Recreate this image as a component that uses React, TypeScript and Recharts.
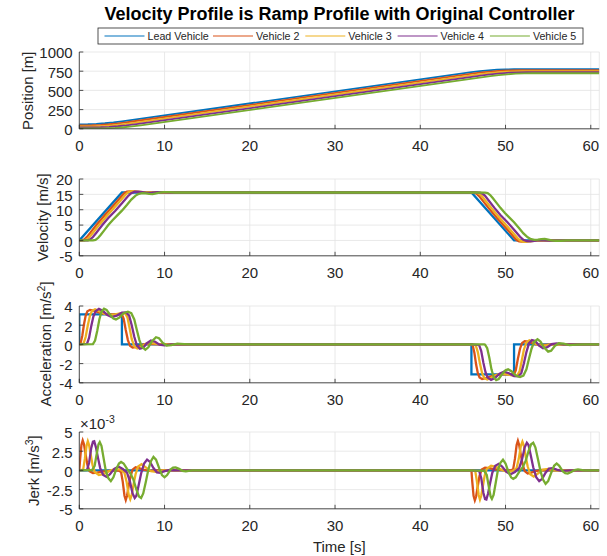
import React from 'react';
import { LineChart, Line, XAxis, YAxis, CartesianGrid } from 'recharts';

type P = [number, number][];

const seriesNames = ['Lead Vehicle', 'Vehicle 2', 'Vehicle 3', 'Vehicle 4', 'Vehicle 5'];
const COLORS = ['#0072BD', '#D95319', '#EDB120', '#7E2F8E', '#77AC30'];
const timeTicks = [0, 10, 20, 30, 40, 50, 60];
const posTicks = [0, 250, 500, 750, 1000];
const velTicks = [-5, 0, 5, 10, 15, 20];
const accTicks = [-4, -2, 0, 2, 4];
const jerkTicks = [-5, -2.5, 0, 2.5, 5];

// Position [m]
const posLead: P = [[0,58],[1,59.6],[2,64.2],[3,72],[4,83],[5,97],[46,736.6],[47,750.6],[48,761.5],[49,769.4],[50,774.1],[51,775.6],[61,775.6]];
const posV2: P = [[0,45],[0.5,45],[1.5,46.6],[2.5,51.2],[3.5,59],[4.5,70],[5.5,84],[6,91.8],[46.5,723.6],[47.5,737.6],[48.5,748.5],[49.5,756.4],[50.5,761.1],[51.5,762.6],[61,762.6]];
const posV3: P = [[0,32],[1,32],[2,33.6],[3,38.2],[4,46],[5,57],[6,71],[47,710.6],[48,724.6],[49,735.5],[50,743.4],[51,748.1],[52,749.6],[61,749.6]];
const posV4: P = [[0,19],[1.5,19],[2.5,20.6],[3.5,25.2],[4.5,33],[5.5,44],[6.5,58],[47.5,697.6],[48.5,711.6],[49.5,722.5],[50.5,730.4],[51.5,735.1],[52.5,736.6],[61,736.6]];
const posV5: P = [[0,6],[2.2,6],[3.2,7.6],[4.2,12.2],[5.2,20],[6.2,31],[7.2,45],[48.2,684.6],[49.2,698.6],[50.2,709.5],[51.2,717.4],[52.2,722.1],[53.2,723.6],[61,723.6]];

// Velocity [m/s]
const velLead: P = [[0,0],[5,15.6],[46,15.6],[51,0],[61,0]];
const velV2: P = [[0,0],[0.3,0.03],[0.6,0.35],[0.9,1.15],[1.3,2.55],[2,5.0],[3,8.3],[4,11.4],[5,14.55],[5.3,15.45],[5.6,15.9],[5.9,16.0],[6.3,15.9],[6.8,15.75],[7.5,15.65],[8.5,15.6],[46,15.6],[46.3,15.57],[46.6,15.25],[46.9,14.45],[47.3,13.05],[48,10.6],[49,7.3],[50,4.2],[51,1.05],[51.3,0.15],[51.6,-0.3],[51.9,-0.4],[52.3,-0.3],[52.8,-0.15],[53.5,-0.05],[54.5,0],[61,0]];
const velV3: P = [[0,0],[0.6,0.03],[0.9,0.35],[1.2,1.1],[1.6,2.5],[2.4,5.3],[3.4,8.5],[4.4,11.6],[5.4,14.8],[5.7,15.6],[6.0,15.95],[6.4,16.05],[6.9,15.9],[7.5,15.7],[8.3,15.62],[9.2,15.65],[10,15.6],[46,15.6],[46.6,15.57],[46.9,15.25],[47.2,14.5],[47.6,13.1],[48.4,10.3],[49.4,7.1],[50.4,4.0],[51.4,0.8],[51.7,0.0],[52.0,-0.35],[52.4,-0.45],[52.9,-0.3],[53.5,-0.05],[54.3,-0.02],[55.2,0],[61,0]];
const velV4: P = [[0,0],[1.0,0.03],[1.3,0.35],[1.6,1.1],[2.0,2.5],[2.7,5.0],[3.4,7.3],[4.2,9.6],[5.0,12.1],[5.7,14.4],[6.1,15.4],[6.5,15.85],[6.9,15.9],[7.4,15.7],[7.9,15.5],[8.5,15.55],[9.2,15.7],[10,15.65],[11,15.6],[46,15.6],[47,15.57],[47.3,15.25],[47.6,14.5],[48.0,13.1],[48.7,10.6],[49.4,8.3],[50.2,6.0],[51.0,3.5],[51.7,1.2],[52.1,0.2],[52.5,-0.25],[52.9,-0.3],[53.4,-0.1],[53.9,0.1],[54.5,0.05],[55.2,-0.05],[56,0],[61,0]];
const velV5: P = [[0,0],[1.6,0.02],[1.9,0.2],[2.2,0.8],[2.5,1.8],[2.9,3.2],[3.4,5.0],[3.9,6.6],[4.4,8.0],[5.0,9.7],[5.6,11.6],[6.1,13.3],[6.6,14.6],[7.0,15.2],[7.4,15.4],[7.8,15.35],[8.2,15.15],[8.6,15.1],[9.0,15.3],[9.4,15.55],[9.9,15.7],[10.5,15.7],[11.2,15.6],[46,15.6],[47.6,15.58],[47.9,15.4],[48.2,14.8],[48.5,13.8],[48.9,12.4],[49.4,10.6],[49.9,9.0],[50.4,7.6],[51.0,5.9],[51.6,4.0],[52.1,2.3],[52.6,1.0],[53.0,0.4],[53.4,0.2],[53.8,0.25],[54.2,0.45],[54.6,0.5],[55.0,0.3],[55.4,0.05],[55.9,-0.1],[56.5,-0.1],[57.2,0],[61,0]];

// Acceleration [m/s^2]
const accLead: P = [[0,0],[0,3.12],[5,3.12],[5,0],[46,0],[46,-3.12],[51,-3.12],[51,0],[61,0]];
const accV2: P = [[0,0],[0.15,0.1],[0.35,0.9],[0.55,2.1],[0.75,3.0],[0.95,3.45],[1.25,3.6],[1.7,3.52],[2.2,3.35],[2.8,3.2],[3.5,3.13],[4.5,3.13],[5.0,3.1],[5.2,2.7],[5.45,1.5],[5.7,0.45],[5.95,-0.15],[6.25,-0.33],[6.65,-0.28],[7.2,-0.1],[7.8,0.04],[8.6,0.04],[9.5,0],[46,0],[46.15,-0.1],[46.35,-0.9],[46.55,-2.1],[46.75,-3.0],[46.95,-3.45],[47.25,-3.6],[47.7,-3.52],[48.2,-3.35],[48.8,-3.2],[49.5,-3.13],[50.5,-3.13],[51.0,-3.1],[51.2,-2.7],[51.45,-1.5],[51.7,-0.45],[51.95,0.15],[52.25,0.33],[52.65,0.28],[53.2,0.1],[53.8,-0.04],[54.6,-0.04],[55.5,0],[61,0]];
const accV3: P = [[0,0],[0.5,0.08],[0.75,0.8],[1.0,2.0],[1.25,3.0],[1.5,3.5],[1.85,3.65],[2.3,3.48],[2.9,3.2],[3.5,3.05],[4.2,3.12],[4.9,3.25],[5.4,3.2],[5.65,2.8],[5.9,1.7],[6.15,0.55],[6.45,-0.2],[6.8,-0.42],[7.2,-0.3],[7.7,0.02],[8.3,0.15],[8.9,0.08],[9.6,-0.03],[10.5,0],[46,0],[46.5,-0.08],[46.75,-0.8],[47.0,-2.0],[47.25,-3.0],[47.5,-3.5],[47.85,-3.65],[48.3,-3.48],[48.9,-3.2],[49.5,-3.05],[50.2,-3.12],[50.9,-3.25],[51.4,-3.2],[51.65,-2.8],[51.9,-1.7],[52.15,-0.55],[52.45,0.2],[52.8,0.42],[53.2,0.3],[53.7,-0.02],[54.3,-0.15],[54.9,-0.08],[55.6,0.03],[56.5,0],[61,0]];
const accV4: P = [[0,0],[0.9,0.06],[1.15,0.7],[1.4,1.9],[1.65,2.9],[1.9,3.45],[2.3,3.7],[2.75,3.5],[3.3,3.05],[3.8,2.85],[4.4,3.0],[5.0,3.3],[5.5,3.32],[5.85,3.0],[6.15,2.0],[6.45,0.8],[6.75,-0.1],[7.1,-0.45],[7.5,-0.35],[7.9,0.1],[8.4,0.4],[8.9,0.28],[9.4,-0.02],[10.0,-0.1],[10.8,0],[46,0],[46.9,-0.06],[47.15,-0.7],[47.4,-1.9],[47.65,-2.9],[47.9,-3.45],[48.3,-3.7],[48.75,-3.5],[49.3,-3.05],[49.8,-2.85],[50.4,-3.0],[51.0,-3.3],[51.5,-3.32],[51.85,-3.0],[52.15,-2.0],[52.45,-0.8],[52.75,0.1],[53.1,0.45],[53.5,0.35],[53.9,-0.1],[54.4,-0.4],[54.9,-0.28],[55.4,0.02],[56.0,0.1],[56.8,0],[61,0]];
const accV5: P = [[0,0],[1.6,0.03],[1.85,0.4],[2.1,1.4],[2.35,2.6],[2.6,3.4],[2.9,3.72],[3.2,3.6],[3.6,3.1],[4.0,2.7],[4.3,2.6],[4.7,2.8],[5.2,3.25],[5.7,3.4],[6.1,3.25],[6.45,2.6],[6.75,1.5],[7.05,0.45],[7.35,-0.25],[7.75,-0.55],[8.1,-0.3],[8.5,0.3],[9.0,0.75],[9.35,0.65],[9.8,0.15],[10.25,-0.12],[10.8,-0.08],[11.5,0.07],[12.3,0.03],[13.2,0],[47.5,0],[47.6,-0.03],[47.85,-0.4],[48.1,-1.4],[48.35,-2.6],[48.6,-3.4],[48.9,-3.72],[49.2,-3.6],[49.6,-3.1],[50.0,-2.7],[50.3,-2.6],[50.7,-2.8],[51.2,-3.25],[51.7,-3.4],[52.1,-3.25],[52.45,-2.6],[52.75,-1.5],[53.05,-0.45],[53.35,0.25],[53.75,0.55],[54.1,0.3],[54.5,-0.3],[55.0,-0.75],[55.35,-0.65],[55.8,-0.15],[56.25,0.12],[56.8,0.08],[57.5,-0.07],[58.3,-0.03],[59.2,0],[61,0]];

// Jerk [m/s^3] in units of 1e-3
const jerkLead: P = [[0,0],[61,0]];
const jerkV2: P = [[0,0],[0.1,1.5],[0.25,3.3],[0.4,3.9],[0.55,3.4],[0.75,2.0],[0.95,0.7],[1.2,-0.1],[1.6,-0.35],[2.1,-0.3],[2.7,-0.15],[3.5,-0.05],[4.6,0],[4.9,-0.2],[5.1,-1.5],[5.3,-3.3],[5.45,-3.85],[5.6,-3.3],[5.8,-2.0],[6.0,-0.8],[6.25,0.1],[6.6,0.4],[7.0,0.3],[7.5,0.1],[8.2,-0.05],[9,0],[46,0],[46.1,-1.5],[46.25,-3.3],[46.4,-3.9],[46.55,-3.4],[46.75,-2.0],[46.95,-0.7],[47.2,0.1],[47.6,0.35],[48.1,0.3],[48.7,0.15],[49.5,0.05],[50.6,0],[50.9,0.2],[51.1,1.5],[51.3,3.3],[51.45,3.85],[51.6,3.3],[51.8,2.0],[52.0,0.8],[52.25,-0.1],[52.6,-0.4],[53.0,-0.3],[53.5,-0.1],[54.2,0.05],[55,0],[61,0]];
const jerkV3: P = [[0,0],[0.45,0.1],[0.65,1.5],[0.85,3.2],[1.0,3.8],[1.15,3.3],[1.35,2.0],[1.55,0.7],[1.8,-0.2],[2.3,-0.6],[2.9,-0.45],[3.5,-0.1],[4.2,0.2],[4.8,0.1],[5.3,-0.3],[5.55,-1.5],[5.8,-3.2],[5.98,-3.75],[6.15,-3.2],[6.35,-1.9],[6.6,-0.5],[6.9,0.5],[7.3,0.8],[7.8,0.4],[8.4,-0.1],[9.0,-0.2],[9.8,0],[46,0],[46.45,-0.1],[46.65,-1.5],[46.85,-3.2],[47.0,-3.8],[47.15,-3.3],[47.35,-2.0],[47.55,-0.7],[47.8,0.2],[48.3,0.6],[48.9,0.45],[49.5,0.1],[50.2,-0.2],[50.8,-0.1],[51.3,0.3],[51.55,1.5],[51.8,3.2],[51.98,3.75],[52.15,3.2],[52.35,1.9],[52.6,0.5],[52.9,-0.5],[53.3,-0.8],[53.8,-0.4],[54.4,0.1],[55.0,0.2],[55.8,0],[61,0]];
const jerkV4: P = [[0,0],[0.9,0.05],[1.15,1.0],[1.4,2.9],[1.6,3.75],[1.75,3.8],[1.95,3.0],[2.2,1.6],[2.45,0.3],[2.8,-0.6],[3.2,-0.85],[3.6,-0.5],[4.1,0.2],[4.6,0.5],[5.1,0.2],[5.6,-0.3],[5.95,-1.5],[6.25,-3.0],[6.5,-3.6],[6.7,-3.3],[6.95,-2.0],[7.25,-0.4],[7.6,0.9],[7.95,1.4],[8.3,1.1],[8.7,0.3],[9.1,-0.25],[9.5,-0.3],[10.0,-0.1],[10.6,0.05],[11.5,0],[46,0],[46.9,-0.05],[47.15,-1.0],[47.4,-2.9],[47.6,-3.75],[47.75,-3.8],[47.95,-3.0],[48.2,-1.6],[48.45,-0.3],[48.8,0.6],[49.2,0.85],[49.6,0.5],[50.1,-0.2],[50.6,-0.5],[51.1,-0.2],[51.6,0.3],[51.95,1.5],[52.25,3.0],[52.5,3.6],[52.7,3.3],[52.95,2.0],[53.25,0.4],[53.6,-0.9],[53.95,-1.4],[54.3,-1.1],[54.7,-0.3],[55.1,0.25],[55.5,0.3],[56.0,0.1],[56.6,-0.05],[57.5,0],[61,0]];
const jerkV5: P = [[0,0],[1.5,0.05],[1.8,0.6],[2.05,2.2],[2.25,3.4],[2.4,3.7],[2.6,3.2],[2.85,1.6],[3.1,0.0],[3.4,-1.0],[3.7,-1.4],[4.0,-0.9],[4.35,0.2],[4.65,0.9],[4.9,1.1],[5.2,0.9],[5.6,0.2],[6.0,-0.4],[6.35,-1.2],[6.7,-2.5],[7.0,-3.4],[7.25,-3.6],[7.5,-3.0],[7.8,-1.5],[8.1,0.1],[8.4,1.2],[8.7,1.75],[9.0,1.4],[9.4,0.2],[9.7,-0.6],[10.0,-0.9],[10.3,-0.6],[10.7,0.1],[11.0,0.35],[11.3,0.4],[11.7,0.2],[12.1,-0.05],[12.5,-0.12],[13.2,0],[46,0],[47.5,-0.05],[47.8,-0.6],[48.05,-2.2],[48.25,-3.4],[48.4,-3.7],[48.6,-3.2],[48.85,-1.6],[49.1,0.0],[49.4,1.0],[49.7,1.4],[50.0,0.9],[50.35,-0.2],[50.65,-0.9],[50.9,-1.1],[51.2,-0.9],[51.6,-0.2],[52.0,0.4],[52.35,1.2],[52.7,2.5],[53.0,3.4],[53.25,3.6],[53.5,3.0],[53.8,1.5],[54.1,-0.1],[54.4,-1.2],[54.7,-1.75],[55.0,-1.4],[55.4,-0.2],[55.7,0.6],[56.0,0.9],[56.3,0.6],[56.7,-0.1],[57.0,-0.35],[57.3,-0.4],[57.7,-0.2],[58.1,0.05],[58.5,0.12],[59.2,0],[61,0]];

const AX = '#262626';
const FONT = '"Liberation Sans", Arial, Helvetica, sans-serif';
const XMAX = 61;
const PLOT_LEFT = 79.3;
const PLOT_RIGHT = 599.3;
const PLOT_H = 76.8;
const M_TOP = 10;
const XH = 30;
const CH_H = 130;
const TL = 4;

const toPts = (a: P) => a.map(([x, y]) => ({ x, y }));

const BottomTick = (p: any) => (
  <g>
    <line x1={p.x} y1={p.y} x2={p.x} y2={p.y - TL} stroke={AX} strokeWidth={0.8} />
    <text x={p.x} y={p.y + 22.3} textAnchor="middle" fontSize={15} fill={AX} fontFamily={FONT}>{String(p.payload.value)}</text>
  </g>
);
const TopTick = (p: any) => (
  <line x1={p.x} y1={p.y} x2={p.x} y2={p.y + TL} stroke={AX} strokeWidth={0.8} />
);
const LeftTick = (p: any) => (
  <g>
    <line x1={p.x} y1={p.y} x2={p.x + TL} y2={p.y} stroke={AX} strokeWidth={0.8} />
    <text x={p.x - 6.6} y={p.y + 6.4} textAnchor="end" fontSize={15} fill={AX} fontFamily={FONT}>{String(p.payload.value)}</text>
  </g>
);
const RightTick = (p: any) => (
  <line x1={p.x} y1={p.y} x2={p.x - TL} y2={p.y} stroke={AX} strokeWidth={0.8} />
);

function Subplot({ top, series, domain, ticks, sw }: { top: number; series: P[]; domain: [number, number]; ticks: number[]; sw: number }) {
  return (
    <div style={{ position: 'absolute', left: 0, top: top - M_TOP }}>
      <LineChart
        width={607}
        height={CH_H}
        margin={{ top: M_TOP, right: 607 - PLOT_RIGHT, bottom: CH_H - M_TOP - PLOT_H - XH, left: 0 }}
      >
        <CartesianGrid stroke="#e3e3e3" strokeWidth={0.8} xAxisId={0} yAxisId={0} />
        <XAxis xAxisId={0} dataKey="x" type="number" domain={[0, XMAX]} ticks={timeTicks} interval={0} height={XH}
          tickSize={0} tickMargin={0} tickLine={false} axisLine={{ stroke: AX, strokeWidth: 0.8 }} tick={BottomTick} allowDataOverflow />
        <XAxis xAxisId="t" orientation="top" dataKey="x" type="number" domain={[0, XMAX]} ticks={timeTicks} interval={0} height={0}
          tickSize={0} tickMargin={0} tickLine={false} axisLine={{ stroke: AX, strokeWidth: 0.8 }} tick={TopTick} allowDataOverflow />
        <YAxis yAxisId={0} type="number" domain={domain} ticks={ticks} interval={0} width={PLOT_LEFT}
          tickSize={0} tickMargin={0} tickLine={false} axisLine={{ stroke: AX, strokeWidth: 0.8 }} tick={LeftTick} allowDataOverflow />
        <YAxis yAxisId="r" orientation="right" type="number" domain={domain} ticks={ticks} interval={0} width={0}
          tickSize={0} tickMargin={0} tickLine={false} axisLine={{ stroke: AX, strokeWidth: 0.8 }} tick={RightTick} allowDataOverflow />
        {series.map((s, i) => (
          <Line key={i} xAxisId={0} yAxisId={0} data={toPts(s)} dataKey="y" type="linear" stroke={COLORS[i]}
            strokeWidth={sw} dot={false} activeDot={false} isAnimationActive={false} name={seriesNames[i]} />
        ))}
      </LineChart>
    </div>
  );
}

const legendLineStarts = [104.5, 213, 305.3, 397.6, 489.9];

export default function App() {
  const tops = [52.3, 179.0, 305.5, 432.3];
  const mid = (t: number) => t + PLOT_H / 2;
  return (
    <div style={{ position: 'absolute', left: 0, top: 0, width: 607, height: 556, background: '#fff', fontFamily: FONT, overflow: 'hidden' }}>
      <Subplot top={tops[0]} series={[posLead, posV2, posV3, posV4, posV5]} domain={[0, 1000]} ticks={posTicks} sw={1.8} />
      <Subplot top={tops[1]} series={[velLead, velV2, velV3, velV4, velV5]} domain={[-5, 20]} ticks={velTicks} sw={2.3} />
      <Subplot top={tops[2]} series={[accLead, accV2, accV3, accV4, accV5]} domain={[-4, 4]} ticks={accTicks} sw={2.3} />
      <Subplot top={tops[3]} series={[jerkLead, jerkV2, jerkV3, jerkV4, jerkV5]} domain={[-5, 5]} ticks={jerkTicks} sw={2.3} />
      <svg width={607} height={556} style={{ position: 'absolute', left: 0, top: 0, pointerEvents: 'none' }} fontFamily={FONT}>
        <text x={339.5} y={19.5} textAnchor="middle" fontSize={18} fontWeight="bold" fill="#000">
          Velocity Profile is Ramp Profile with Original Controller
        </text>
        <rect x={98} y={28} width={485} height={16} fill="#fff" stroke={AX} strokeWidth={0.8} />
        {seriesNames.map((n, i) => (
          <g key={n}>
            <line x1={legendLineStarts[i]} y1={36} x2={legendLineStarts[i] + 40} y2={36} stroke={COLORS[i]} strokeWidth={1.2} />
            <text x={legendLineStarts[i] + 43} y={39.8} fontSize={10.7} fill={AX}>{n}</text>
          </g>
        ))}
        <text transform={`translate(32.8,${mid(tops[0])}) rotate(-90)`} textAnchor="middle" fontSize={15} fill={AX}>
          Position [m]
        </text>
        <text transform={`translate(47.5,${mid(tops[1])}) rotate(-90)`} textAnchor="middle" fontSize={15} fill={AX}>
          Velocity [m/s]
        </text>
        <text transform={`translate(51.3,${mid(tops[2])}) rotate(-90)`} textAnchor="middle" fontSize={15} fill={AX}>
          Acceleration [m/s<tspan fontSize={10.5} dy={-6}>2</tspan><tspan dy={6}>]</tspan>
        </text>
        <text transform={`translate(39.3,${mid(tops[3])}) rotate(-90)`} textAnchor="middle" fontSize={15} fill={AX}>
          Jerk [m/s<tspan fontSize={10.5} dy={-6}>3</tspan><tspan dy={6}>]</tspan>
        </text>
        <text x={80} y={428.5} fontSize={15} fill={AX}>
          ×10<tspan fontSize={10.5} dy={-6}>-3</tspan>
        </text>
        <text x={339.3} y={552.4} textAnchor="middle" fontSize={15} fill={AX}>Time [s]</text>
      </svg>
    </div>
  );
}
